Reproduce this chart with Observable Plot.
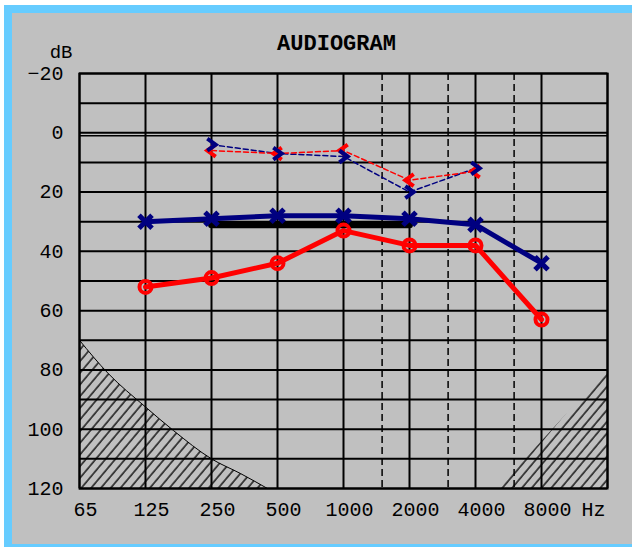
<!DOCTYPE html>
<html>
<head>
<meta charset="utf-8">
<script src="https://cdn.jsdelivr.net/npm/d3@7"></script>
<script src="https://cdn.jsdelivr.net/npm/@observablehq/plot@0.6"></script>
<style>
  html, body { margin: 0; padding: 0; background: #ffffff; }
  body { position: relative; width: 632px; height: 550px; overflow: hidden; }
  #panel {
    position: absolute; left: 4px; top: 5px; width: 628px; height: 542px;
    box-sizing: border-box; background: #c0c0c0;
    border-left: 8px solid #66ccff; border-top: 8px solid #66ccff; border-bottom: 3px solid #66ccff;
  }
  #chart { position: absolute; left: 0; top: 0; }
</style>
</head>
<body>
<div id="panel"></div>
<div id="chart"></div>
<script>
// Test frequencies (Hz) and hearing levels (dB HL)
const freqs = [125, 250, 500, 1000, 2000, 4000, 8000];
const rightAir = [52, 49, 44, 33, 38, 38, 63];
const leftAir = [30, 29, 28, 28, 29, 31, 44];

const boneFreqs = [250, 500, 1000, 2000, 4000];
const rightBone = [6, 7, 6, 16, 13];
const leftBone = [4, 7, 8, 20, 12];

// Masking band
const maskFreqs = [250, 2000];
const maskLevels = [31, 31];

// Grid and tick labels
const octaveLines = [62.5, 125, 250, 500, 1000, 2000, 4000, 8000, 16000];
const halfOctaveLines = [1500, 3000, 6000];
const xTicks = [62.5, 125, 250, 500, 1000, 2000, 4000, 8000];
const xTickLabels = ["65", "125", "250", "500", "1000", "2000", "4000", "8000"];
const dbTicks = [-20, 0, 20, 40, 60, 80, 100, 120];
const dbGrid = [-20, -10, 0, 10, 20, 30, 40, 50, 60, 70, 80, 90, 100, 110, 120];

// Out-of-range regions (hatched)
const lowLimitFreqs = [62.5, 84, 125, 168, 250, 340, 450];
const lowLimitLevels = [70, 81, 92.5, 100.5, 110, 115, 120];
const highLimitFreqs = [5100, 16000];
const highLimitLevels = [120, 80];

const rows = (fs, vs) => fs.map((f, i) => ({f, db: vs[i]}));
const RED = "#ff0000";
const BLUE = "#000080";

// bone-conduction chevrons: "<" (right ear) and ">" (left ear)
const chevron = (dir) => ({
  draw(context, size) {
    const r = Math.sqrt(size / Math.PI);
    context.moveTo(-dir * 0.7 * r, -r);
    context.lineTo(dir * 0.7 * r, 0);
    context.lineTo(-dir * 0.7 * r, r);
  }
});

const chart = Plot.plot({
  width: 632,
  height: 550,
  marginLeft: 79,
  marginRight: 25,
  marginTop: 73,
  marginBottom: 62,
  x: {type: "log", domain: [62.5, 16000], axis: null},
  y: {domain: [-20, 120], reverse: true},
  style: {background: "transparent", fontFamily: "Liberation Mono", fontSize: "20px", color: "black", overflow: "visible"},
  marks: [
    // hatched limits
    Plot.areaY(rows(lowLimitFreqs, lowLimitLevels), {x: "f", y1: "db", y2: 120, fill: "url(#hatch)", curve: "monotone-x"}),
    Plot.lineY(rows(lowLimitFreqs, lowLimitLevels), {x: "f", y: "db", stroke: "black", strokeWidth: 1, curve: "monotone-x"}),
    Plot.areaY(rows(highLimitFreqs, highLimitLevels), {x: "f", y1: "db", y2: 120, fill: "url(#hatch)"}),
    // grid
    Plot.ruleY(dbGrid, {stroke: "black", strokeWidth: 2}),
    Plot.ruleY([0], {stroke: "black", strokeWidth: 1.5, dy: 3}),
    Plot.ruleX(octaveLines, {stroke: "black", strokeWidth: 2}),
    Plot.ruleX(halfOctaveLines, {stroke: "black", strokeWidth: 1.5, strokeDasharray: "7,4"}),
    Plot.frame({stroke: "black", strokeWidth: 2}),
    // axes and labels
    Plot.axisY(dbTicks, {tickSize: 0, tickPadding: 16, label: null, fontSize: 20}),
    Plot.text(xTicks, {x: d => d, frameAnchor: "bottom", text: (d, i) => xTickLabels[i], dx: 6, dy: 27, fontSize: 20}),
    Plot.text(["Hz"], {x: () => 16000, frameAnchor: "bottom", text: d => d, textAnchor: "end", dx: -2, dy: 27, fontSize: 20}),
    Plot.text(["dB"], {frameAnchor: "top-left", text: d => d, textAnchor: "end", dx: -7, dy: -29, fontSize: 19}),
    Plot.text(["AUDIOGRAM"], {frameAnchor: "top", text: d => d, dx: -7, dy: -39, fontSize: 22, fontWeight: "bold"}),
    // masking band
    Plot.lineY(rows(maskFreqs, maskLevels), {x: "f", y: "db", stroke: "black", strokeWidth: 7}),
    // bone conduction
    Plot.lineY(rows(boneFreqs, leftBone), {x: "f", y: "db", stroke: BLUE, strokeWidth: 1.5, strokeDasharray: "5,3"}),
    Plot.lineY(rows(boneFreqs, rightBone), {x: "f", y: "db", stroke: RED, strokeWidth: 1.5, strokeDasharray: "5,3"}),
    Plot.dot(rows(boneFreqs, rightBone), {x: "f", y: "db", symbol: chevron(-1), r: 6, stroke: RED, strokeWidth: 4, fill: "none", strokeLinejoin: "miter"}),
    Plot.dot(rows(boneFreqs, leftBone), {x: "f", y: "db", symbol: chevron(1), r: 6, stroke: BLUE, strokeWidth: 4, fill: "none", strokeLinejoin: "miter"}),
    // air conduction
    Plot.lineY(rows(freqs, leftAir), {x: "f", y: "db", stroke: BLUE, strokeWidth: 5}),
    Plot.dot(rows(freqs, leftAir), {x: "f", y: "db", symbol: "times", r: 6, stroke: BLUE, strokeWidth: 5}),
    Plot.lineY(rows(freqs, rightAir), {x: "f", y: "db", stroke: RED, strokeWidth: 5}),
    Plot.dot(rows(freqs, rightAir), {x: "f", y: "db", r: 6, stroke: RED, strokeWidth: 4, fill: "none"})
  ]
});

// diagonal hatch used by the limit regions
const defs = d3.select(chart).insert("defs", ":first-child");
const pat = defs.append("pattern")
  .attr("id", "hatch")
  .attr("patternUnits", "userSpaceOnUse")
  .attr("width", 7.5)
  .attr("height", 20)
  .attr("patternTransform", "rotate(40)");
pat.append("line")
  .attr("x1", 1).attr("y1", 0).attr("x2", 1).attr("y2", 20)
  .attr("stroke", "black").attr("stroke-width", 1.3);

document.getElementById("chart").appendChild(chart);
</script>
</body>
</html>
